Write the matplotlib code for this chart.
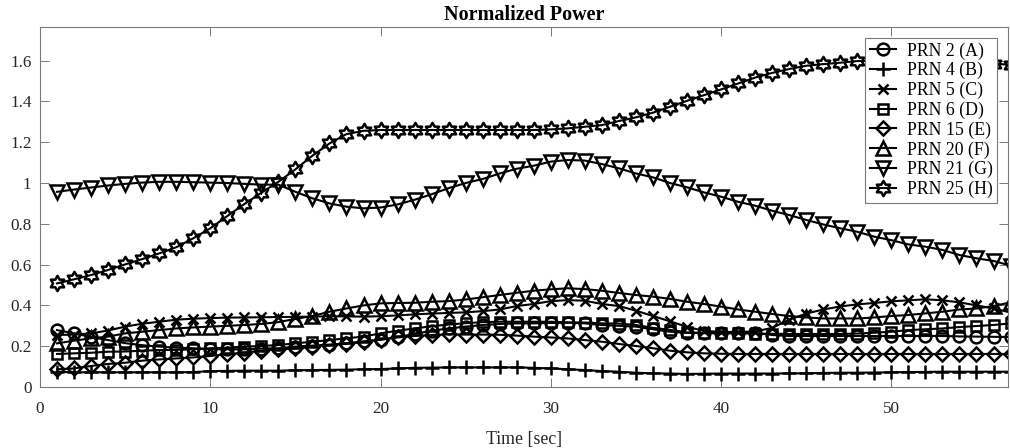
import numpy as np
import matplotlib
matplotlib.use("Agg")
import matplotlib.pyplot as plt
from matplotlib.path import Path

plt.rcParams['font.family'] = ['Liberation Serif', 'DejaVu Serif']

t = list(range(1, 58))

prn2_A = [0.279, 0.263, 0.245, 0.230, 0.215, 0.205, 0.198, 0.193, 0.190, 0.185,
          0.185, 0.185, 0.188, 0.190, 0.198, 0.203, 0.208, 0.214, 0.224, 0.232,
          0.245, 0.260, 0.276, 0.287, 0.296, 0.304, 0.309, 0.312, 0.312, 0.314,
          0.315, 0.312, 0.304, 0.300, 0.296, 0.283, 0.271, 0.265, 0.265, 0.265,
          0.265, 0.265, 0.255, 0.250, 0.250, 0.250, 0.250, 0.250, 0.250, 0.250,
          0.250, 0.250, 0.250, 0.248, 0.247, 0.246, 0.245]
prn4_B = [0.075, 0.072, 0.072, 0.072, 0.072, 0.072, 0.072, 0.072, 0.073, 0.078,
          0.079, 0.080, 0.080, 0.080, 0.082, 0.083, 0.084, 0.085, 0.087, 0.088,
          0.091, 0.094, 0.095, 0.096, 0.096, 0.096, 0.096, 0.096, 0.094, 0.091,
          0.087, 0.083, 0.078, 0.075, 0.070, 0.067, 0.066, 0.064, 0.065, 0.066,
          0.066, 0.066, 0.066, 0.067, 0.067, 0.069, 0.070, 0.070, 0.071, 0.072,
          0.073, 0.074, 0.075, 0.075, 0.075, 0.075, 0.075]
prn5_C = [0.255, 0.257, 0.263, 0.277, 0.296, 0.310, 0.320, 0.330, 0.335, 0.338,
          0.340, 0.341, 0.342, 0.343, 0.344, 0.345, 0.347, 0.346, 0.345, 0.347,
          0.351, 0.356, 0.360, 0.363, 0.366, 0.372, 0.380, 0.397, 0.407, 0.421,
          0.426, 0.423, 0.407, 0.397, 0.374, 0.348, 0.322, 0.295, 0.275, 0.270,
          0.270, 0.272, 0.290, 0.330, 0.360, 0.380, 0.395, 0.405, 0.412, 0.420,
          0.425, 0.430, 0.425, 0.415, 0.400, 0.385, 0.365]
prn6_D = [0.162, 0.165, 0.168, 0.173, 0.174, 0.178, 0.181, 0.182, 0.185, 0.190,
          0.193, 0.198, 0.201, 0.206, 0.214, 0.222, 0.230, 0.239, 0.247, 0.263,
          0.276, 0.287, 0.298, 0.306, 0.313, 0.318, 0.320, 0.320, 0.320, 0.320,
          0.317, 0.316, 0.312, 0.311, 0.304, 0.290, 0.280, 0.268, 0.264, 0.263,
          0.263, 0.262, 0.261, 0.260, 0.260, 0.260, 0.260, 0.262, 0.266, 0.271,
          0.279, 0.283, 0.287, 0.294, 0.299, 0.304, 0.312]
prn15_E = [0.087, 0.091, 0.103, 0.113, 0.119, 0.129, 0.135, 0.140, 0.145, 0.152,
           0.162, 0.168, 0.178, 0.185, 0.190, 0.198, 0.206, 0.212, 0.221, 0.232,
           0.243, 0.250, 0.255, 0.258, 0.257, 0.257, 0.256, 0.252, 0.247, 0.243,
           0.238, 0.230, 0.222, 0.211, 0.201, 0.190, 0.178, 0.170, 0.165, 0.163,
           0.162, 0.162, 0.162, 0.162, 0.162, 0.162, 0.162, 0.162, 0.162, 0.162,
           0.162, 0.162, 0.162, 0.162, 0.162, 0.162, 0.162]
prn20_F = [0.214, 0.227, 0.239, 0.247, 0.263, 0.271, 0.279, 0.287, 0.292, 0.296,
           0.300, 0.304, 0.309, 0.318, 0.334, 0.348, 0.369, 0.385, 0.400, 0.410,
           0.412, 0.413, 0.418, 0.421, 0.429, 0.440, 0.451, 0.462, 0.472, 0.479,
           0.484, 0.480, 0.472, 0.461, 0.451, 0.443, 0.432, 0.418, 0.407, 0.394,
           0.380, 0.369, 0.358, 0.348, 0.341, 0.336, 0.336, 0.336, 0.341, 0.348,
           0.353, 0.361, 0.369, 0.380, 0.385, 0.397, 0.415]
prn21_G = [0.957, 0.968, 0.978, 0.988, 0.996, 1.002, 1.006, 1.006, 1.004, 1.002,
           1.000, 0.996, 0.992, 0.992, 0.957, 0.925, 0.900, 0.884, 0.876, 0.880,
           0.895, 0.918, 0.945, 0.975, 1.000, 1.020, 1.047, 1.070, 1.085, 1.105,
           1.113, 1.110, 1.093, 1.072, 1.047, 1.028, 1.000, 0.979, 0.954, 0.933,
           0.908, 0.889, 0.864, 0.843, 0.819, 0.797, 0.778, 0.761, 0.737, 0.720,
           0.699, 0.688, 0.672, 0.647, 0.631, 0.618, 0.595]
prn25_H = [0.508, 0.528, 0.549, 0.574, 0.601, 0.627, 0.655, 0.685, 0.729, 0.778,
           0.838, 0.897, 0.952, 1.006, 1.067, 1.134, 1.194, 1.240, 1.256, 1.260,
           1.260, 1.260, 1.260, 1.260, 1.260, 1.260, 1.260, 1.260, 1.260, 1.263,
           1.268, 1.276, 1.284, 1.304, 1.322, 1.345, 1.374, 1.403, 1.431, 1.459,
           1.488, 1.517, 1.540, 1.559, 1.575, 1.583, 1.590, 1.598, 1.600, 1.602,
           1.602, 1.600, 1.598, 1.595, 1.590, 1.585, 1.580]

labels = ['PRN 2 (A)', 'PRN 4 (B)', 'PRN 5 (C)', 'PRN 6 (D)',
          'PRN 15 (E)', 'PRN 20 (F)', 'PRN 21 (G)', 'PRN 25 (H)']
series = [prn2_A, prn4_B, prn5_C, prn6_D, prn15_E, prn20_F, prn21_G, prn25_H]

hexagram = Path.unit_regular_star(6, 0.577)
markers = ['o', '+', 'x', 's', 'D', '^', 'v', hexagram]
msizes = [8.5, 10, 7, 7.5, 7, 10, 10, 11]

fig = plt.figure(figsize=(10.10, 4.48), dpi=100)
ax = fig.add_axes([40/1010, 1-387/448, 968/1010, 360/448])

for y, lab, m, ms in zip(series, labels, markers, msizes):
    ax.plot(t, y, color='black', linewidth=1.5, marker=m, markersize=ms,
            markerfacecolor='none', markeredgecolor='black', markeredgewidth=1.8,
            label=lab, clip_on=True)

ax.set_xlim(0, 56.85)
ax.set_ylim(0, 1.765)
ax.set_xticks([0, 10, 20, 30, 40, 50])
ax.set_yticks([0, 0.2, 0.4, 0.6, 0.8, 1.0, 1.2, 1.4, 1.6])
ax.set_yticklabels(['0', '0.2', '0.4', '0.6', '0.8', '1', '1.2', '1.4', '1.6'])
ax.tick_params(direction='in', length=6.5, width=0.7, colors='#7a7a7a',
               labelcolor='#262626', labelsize=12.3, top=True, right=True)
ax.tick_params(axis='x', pad=10)
ax.tick_params(axis='y', pad=6)
for s in ax.spines.values():
    s.set_color('#7a7a7a')
    s.set_linewidth(0.8)

ax.set_xlabel('Time [sec]', fontsize=12.8, color='#262626', labelpad=10)
ax.set_title('Normalized Power', fontsize=14.5, fontweight='bold', pad=5)

leg = ax.legend(loc='upper right', bbox_to_anchor=(0.989, 0.97), borderaxespad=0,
                fontsize=12.8, handlelength=1.5, handletextpad=0.6,
                labelspacing=0.14, borderpad=0.25, fancybox=False, framealpha=1,
                edgecolor='#7a7a7a')
leg.get_frame().set_linewidth(0.8)

fig.savefig('out.png', dpi=100)
